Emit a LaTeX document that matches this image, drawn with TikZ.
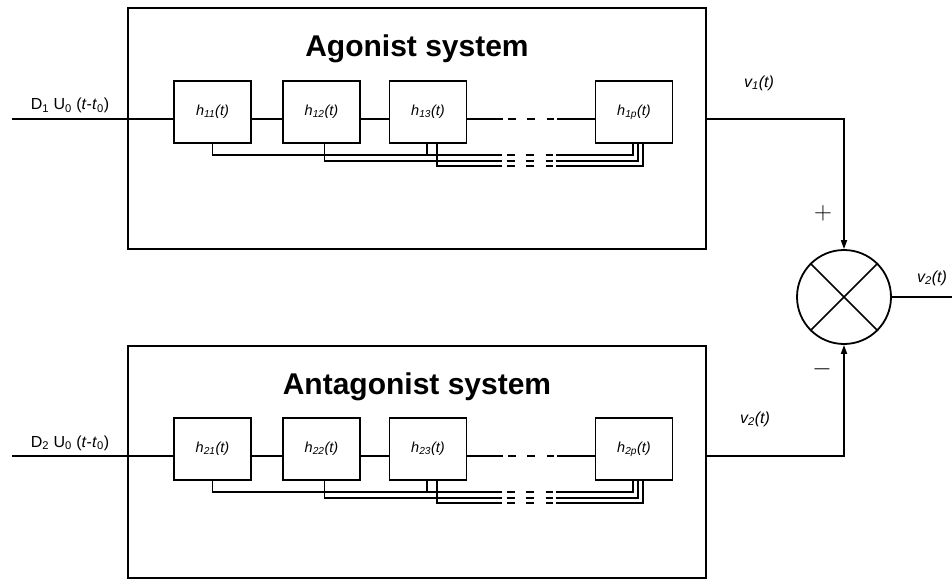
\documentclass[tikz,border=0pt]{standalone}
\usepackage{fontspec}
\setmainfont{Liberation Sans}
\usetikzlibrary{arrows.meta,calc}
\begin{document}
\begin{tikzpicture}[x=1pt,y=-1pt,
  sysbox/.style={draw,line width=1.9pt,inner sep=0pt},
  blk/.style={draw,line width=1.7pt,minimum width=77pt,minimum height=62pt,inner sep=0pt,font=\fontsize{14.5}{14.5}\selectfont\itshape},
  wire/.style={line width=1.6pt},
  bus/.style={line width=1.35pt},
  ttl/.style={font=\fontsize{30}{30}\selectfont\bfseries,inner sep=0pt,anchor=base},
  lbl/.style={font=\fontsize{16}{16}\selectfont,inner sep=0pt},
  sgn/.style={font=\fontsize{30}{30}\selectfont,inner sep=0pt},
  arr/.style={-{Triangle[length=9pt,width=6pt]}},
  gaps/.style={dash pattern=on #1 off 5pt on 8pt off 11pt on 8pt off 12pt on 7pt off 3pt on 400pt}
]
\useasboundingbox (0,0) rectangle (952,588);

\node[sysbox,minimum width=578pt,minimum height=241pt] (ag) at (417,128.5) {};
\node[sysbox,minimum width=578pt,minimum height=232pt] (an) at (417,462) {};
\node[ttl] (agt) at (417,57) {Agonist system};
\node[ttl] (ant) at (417,394) {Antagonist system};

\foreach \s/\dy in {1/0,2/337}{
\begin{scope}[shift={(0,\dy)}]
 \node[blk] (h\s1) at (212.5,112) {h\textsubscript{\s1}(t)};
 \node[blk] (h\s2) at (321.5,112) {h\textsubscript{\s2}(t)};
 \node[blk] (h\s3) at (428,112) {h\textsubscript{\s3}(t)};
 \node[blk] (hp\s) at (634,112) {h\textsubscript{\s p}(t)};
 \coordinate (in\s) at (12,119);
 \node[lbl,anchor=base] (d\s) at (70,110) {D\textsubscript{\s} U\textsubscript{0} (\textit{t}-\textit{t}\textsubscript{0})};
 % signal chain
 \draw[wire] (in\s) -- (in\s -| h\s1.west);
 \draw[wire] (h\s1.east |- in\s) -- (h\s2.west |- in\s);
 \draw[wire] (h\s2.east |- in\s) -- (h\s3.west |- in\s);
 \draw[wire,gaps=36pt] (h\s3.east |- in\s) -- (hp\s.west |- in\s);
 % bus lines
 \draw[bus,gaps=300pt] (h\s1.south) |- ($(hp\s.south)+(-1,11)$) -- ($(hp\s.south)+(-1,0)$);
 \draw[bus,gaps=194pt] ($(h\s2.south)+(3,0)$) |- ($(hp\s.south)+(4,17)$) -- ($(hp\s.south)+(4,0)$);
 \draw[bus,gaps=87pt] ($(h\s3.south)+(9,0)$) |- ($(hp\s.south)+(9,22)$) -- ($(hp\s.south)+(9,0)$);
 \draw[bus] ($(h\s3.south)+(-1,0)$) -- ++(0,11);
\end{scope}
}

\node[draw,circle,line width=1.8pt,minimum size=94pt,inner sep=0pt] (sum) at (844,297) {};
\draw[line width=1.7pt] (sum.45) -- (sum.225) (sum.135) -- (sum.315);
\draw[wire,arr] (ag.east |- in1) -| (sum.north);
\draw[wire,arr] (an.east |- in2) -| (sum.south);
\coordinate (outR) at (952,297);
\draw[wire] (sum.east) -- (outR);

\node[lbl] (v1) at (759,83) {\itshape v\textsubscript{1}(t)};
\node[lbl] (v2a) at (755,419) {\itshape v\textsubscript{2}(t)};
\node[lbl] (v2b) at (932,278) {\itshape v\textsubscript{2}(t)};
\node[sgn] (plus) at (823,213) {$+$};
\node[sgn] (minus) at (822,369) {$-$};
\end{tikzpicture}
\end{document}
